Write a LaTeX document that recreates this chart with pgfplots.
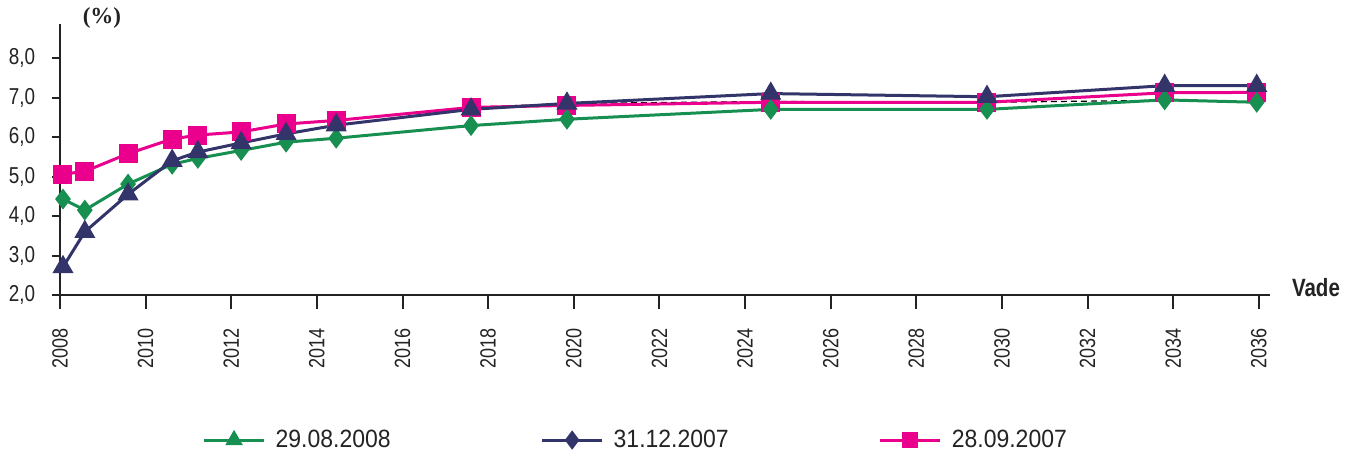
\documentclass[border=0pt]{standalone}
\usepackage{pgfplots}
\pgfplotsset{compat=1.18}
\usepackage{fontspec}
\setmainfont{Liberation Sans}[FakeStretch=0.82]
\newfontfamily\legfont{Liberation Sans}[FakeStretch=0.92]
\newfontfamily\serifbold{Liberation Serif}
\definecolor{cgreen}{RGB}{22,143,80}
\definecolor{cnavy}{RGB}{50,52,106}
\definecolor{cpink}{RGB}{234,0,140}
\definecolor{caxis}{RGB}{35,35,35}

\begin{document}
\fontsize{11.5}{13}\selectfont
\begin{tikzpicture}
\begin{axis}[
  at={(0,0)}, anchor=south west,
  scale only axis, width=605pt, height=135.5pt,
  xmin=2008, xmax=2036.26, ymin=2, ymax=8.86,
  axis x line*=bottom, axis y line*=left,
  axis line style={caxis, line width=1pt, -},
  tick style={caxis, line width=1pt},
  tick align=outside,
  xtick={2008,2010,2012,2014,2016,2018,2020,2022,2024,2026,2028,2030,2032,2034,2036},
  xticklabels={2008,2010,2012,2014,2016,2018,2020,2022,2024,2026,2028,2030,2032,2034,2036},
  ytick={2,3,4,5,6,7,8},
  yticklabels={{2,0},{3,0},{4,0},{5,0},{6,0},{7,0},{8,0}},
  xtick style={/pgfplots/major tick length=7pt},
  ytick style={/pgfplots/major tick length=4pt},
  xticklabel style={rotate=90, anchor=east, text=caxis, inner sep=0pt,
    font=\fontsize{11}{13}\selectfont},
  xticklabel shift={12pt},
  yticklabel style={text=caxis, inner sep=0pt},
  yticklabel shift={8pt},
  clip=false,
  legend columns=3,
  legend cell align=left,
  legend style={at={(axis description cs:0.1175,-0.535)}, anchor=west,
    draw=none, fill=none, inner sep=0pt, text=caxis,
    font=\legfont\fontsize{12.5}{14}\selectfont,
    /tikz/every odd column/.append style={column sep=3pt},
    /tikz/every even column/.append style={column sep=73pt}},
  legend image code/.code={\draw[mark repeat=2,mark phase=2,#1]
    plot coordinates {(0pt,0pt) (15pt,0pt) (30pt,0pt)};},
]
\addplot[black, densely dashed, line width=0.6pt, forget plot] coordinates {
  (2017.6,6.75)(2019.84,6.85)(2024.6,6.9)(2029.65,6.88)(2033.8,6.93)(2035.95,6.88)};
\addplot[cpink, line width=1.5pt, mark=square*, mark size=4pt, forget plot] coordinates {
  (2008.07,5.06)(2008.58,5.13)(2009.59,5.58)(2010.62,5.95)(2011.22,6.05)(2012.23,6.13)
  (2013.28,6.33)(2014.45,6.42)(2017.6,6.75)(2019.84,6.8)(2024.6,6.88)(2029.65,6.88)
  (2033.8,7.12)(2035.95,7.13)};
\addplot[cgreen, line width=1.5pt, mark=diamond*, mark size=4pt, forget plot] coordinates {
  (2008.07,4.43)(2008.58,4.15)(2009.59,4.81)(2010.62,5.31)(2011.22,5.46)(2012.23,5.66)
  (2013.28,5.87)(2014.45,5.97)(2017.6,6.29)(2019.84,6.45)(2024.6,6.7)(2029.65,6.7)
  (2033.8,6.94)(2035.95,6.88)};
\addplot[cnavy, line width=1.5pt, mark=triangle*, mark size=4.6pt, forget plot] coordinates {
  (2008.07,2.71)(2008.58,3.6)(2009.59,4.55)(2010.62,5.4)(2011.22,5.62)(2012.23,5.85)
  (2013.28,6.08)(2014.45,6.3)(2017.6,6.7)(2019.84,6.85)(2024.6,7.1)(2029.65,7.02)
  (2033.8,7.3)(2035.95,7.3)};
\addlegendimage{cgreen, line width=1.5pt, mark=triangle*, mark size=3.6pt}
\addlegendentry{29.08.2008}
\addlegendimage{cnavy, line width=1.5pt, mark=diamond*, mark size=3.6pt}
\addlegendentry{31.12.2007}
\addlegendimage{cpink, line width=1.5pt, mark=square*, mark size=3.2pt}
\addlegendentry{28.09.2007}
\node[font=\serifbold\bfseries, text=caxis] at (axis description cs:0.0347,1.022) {(\%)};
\node[font=\bfseries\fontsize{12.5}{14}\selectfont, text=caxis] at (axis description cs:1.038,0.026) {Vade};
\end{axis}
\path (-30pt,-82pt) rectangle (648pt,146.5pt);
\end{tikzpicture}
\end{document}
